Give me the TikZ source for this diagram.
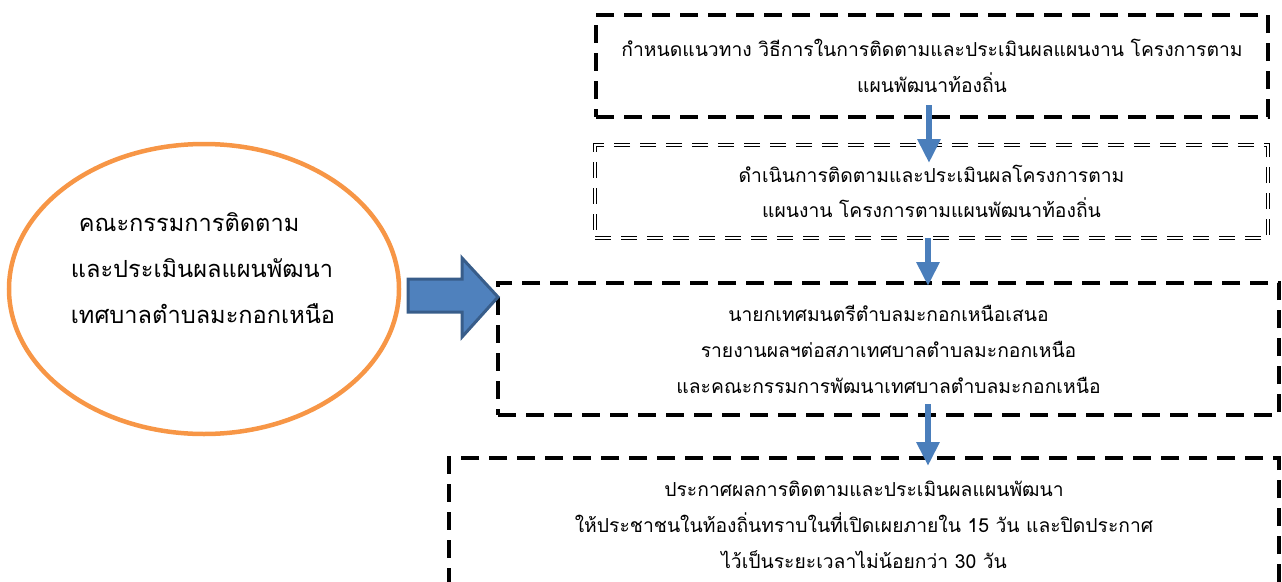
\documentclass[tikz,border=0pt]{standalone}
\usepackage{fontspec}
\usepackage{xcolor}
\usepackage{tikz}
\usetikzlibrary{positioning,arrows.meta,shapes.geometric}
\newfontfamily\thaifont[Script=Thai]{Loma}
\definecolor{flowblue}{RGB}{74,126,187}
\definecolor{blockblue}{RGB}{79,129,189}
\definecolor{blockedge}{RGB}{56,93,138}
\definecolor{ringorange}{RGB}{247,150,70}

\begin{document}
\begin{tikzpicture}
	[x=1pt,y=-1pt,
	stepbox/.style={draw=black,line width=3.3pt,dash pattern=on 18pt off 10pt,align=center,inner sep=0pt,font=\thaifont\fontsize{19.3}{36}\selectfont},
	dblbox/.style={draw=black,double,double distance=1.6pt,line width=1pt,dash pattern=on 16pt off 10pt,align=center,inner sep=0pt,font=\thaifont\fontsize{19.3}{35}\selectfont},
	flow/.style={-{Triangle[width=22pt,length=24pt]},line width=6.5pt,draw=flowblue}]
	\clip (0,0) rectangle (1282,581);
	%STEPS
	\node[stepbox,minimum width=672,minimum height=102] (plan) at (932,66)
	{กำหนดแนวทาง วิธีการในการติดตามและประเมินผลแผนงาน โครงการตาม\\แผนพัฒนาท้องถิ่น};
	\node[dblbox,minimum width=673,minimum height=93] (track) at (931.5,191.5)
	{ดำเนินการติดตามและประเมินผลโครงการตาม\\แผนงาน โครงการตามแผนพัฒนาท้องถิ่น};
	\node[stepbox,minimum width=781,minimum height=132] (report) at (888.5,349)
	{นายกเทศมนตรีตำบลมะกอกเหนือเสนอ\\รายงานผลฯต่อสภาเทศบาลตำบลมะกอกเหนือ\\และคณะกรรมการพัฒนาเทศบาลตำบลมะกอกเหนือ};
	\node[stepbox,minimum width=830,minimum height=134] (announce) at (864,525)
	{ประกาศผลการติดตามและประเมินผลแผนพัฒนา\\ให้ประชาชนในท้องถิ่นทราบในที่เปิดเผยภายใน 15 วัน และปิดประกาศ\\ไว้เป็นระยะเวลาไม่น้อยกว่า 30 วัน};
	%ARROWS
	\coordinate (p1) at (929,105);
	\coordinate (t1) at (929,163);
	\coordinate (p2) at (928,238);
	\coordinate (t2) at (928,286);
	\coordinate (p3) at (928,404);
	\coordinate (t3) at (928,466);
	\draw[flow] (p1) -- (t1);
	\draw[flow] (p2) -- (t2);
	\draw[flow] (p3) -- (t3);
	%COMMITTEE
	\node[ellipse,draw=ringorange,line width=4.5pt,minimum width=390,minimum height=290] (committee) at (204,289) {};
	\node[align=left,inner sep=0pt,font=\thaifont\fontsize{23.6}{46}\selectfont] (committeetext) at (203,268)
	{\ คณะกรรมการติดตาม\\และประเมินผลแผนพัฒนา\\เทศบาลตำบลมะกอกเหนือ};
	\draw[fill=blockblue,draw=blockedge,line width=3pt,line join=miter]
	(408,279) -- (462,279) -- (462,258) -- (498,297) -- (462,337) -- (462,312) -- (408,312) -- cycle;
\end{tikzpicture}
\end{document}
